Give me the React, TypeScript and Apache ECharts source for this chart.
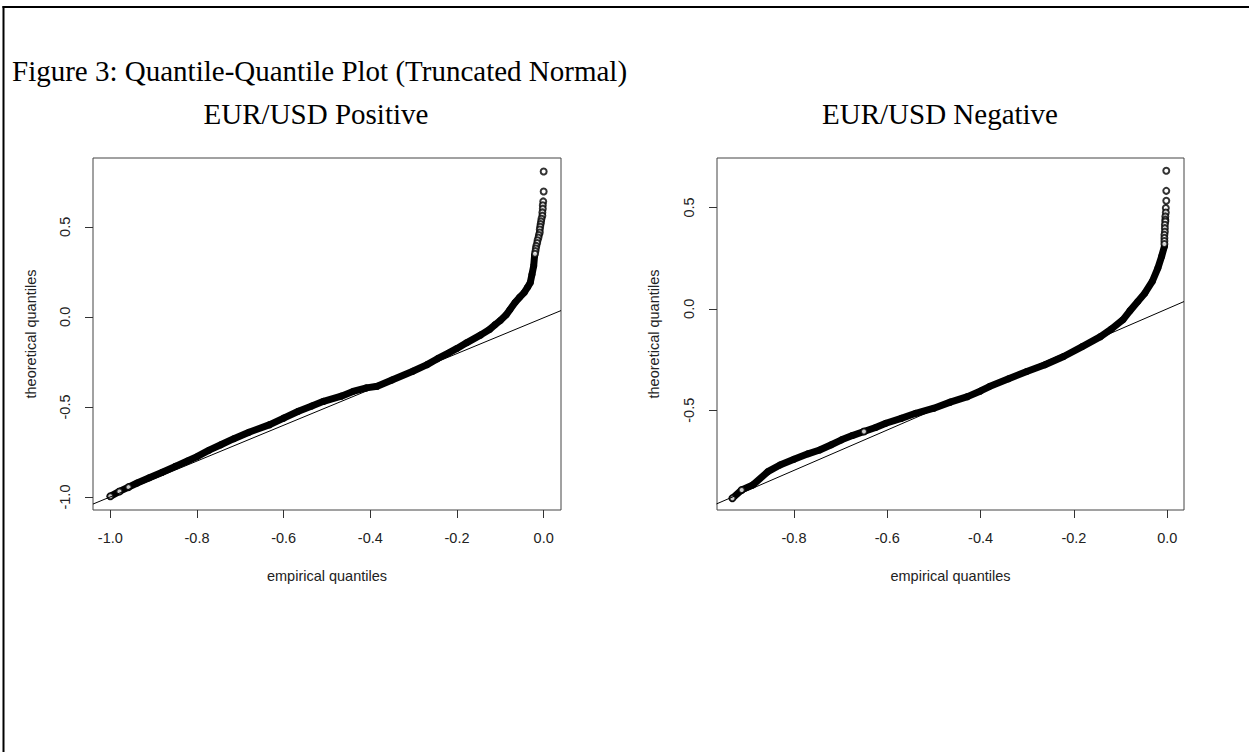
import React, { useEffect, useRef } from "react";
import * as echarts from "echarts";

// ---- data ----
const leftBand: [number, number][] = [
  [-1.0, -0.996], [-0.979, -0.969], [-0.958, -0.945], [-0.938, -0.922], [-0.91, -0.893],
  [-0.88, -0.862], [-0.85, -0.83], [-0.822, -0.8], [-0.8, -0.776], [-0.772, -0.74],
  [-0.745, -0.71], [-0.715, -0.676], [-0.68, -0.64], [-0.632, -0.598], [-0.6, -0.562],
  [-0.566, -0.524], [-0.535, -0.495], [-0.508, -0.469], [-0.467, -0.44], [-0.44, -0.414],
  [-0.409, -0.394], [-0.384, -0.385], [-0.35, -0.35], [-0.302, -0.302], [-0.269, -0.265],
  [-0.245, -0.232], [-0.219, -0.2], [-0.2, -0.175], [-0.178, -0.144], [-0.145, -0.1],
  [-0.125, -0.07], [-0.112, -0.043], [-0.1, -0.02], [-0.087, 0.01], [-0.078, 0.04],
  [-0.066, 0.08], [-0.055, 0.11], [-0.045, 0.135], [-0.037, 0.165], [-0.031, 0.19],
  [-0.027, 0.235], [-0.023, 0.283], [-0.021, 0.339],
];
const leftTail: [number, number][] = [
  [0.0, 0.807], [0.0, 0.696], [-0.001, 0.641], [-0.002, 0.62], [-0.002, 0.6],
  [-0.003, 0.58], [-0.003, 0.561], [-0.005, 0.545], [-0.006, 0.53], [-0.007, 0.515],
  [-0.008, 0.5], [-0.009, 0.485], [-0.009, 0.468], [-0.011, 0.455], [-0.012, 0.44],
  [-0.014, 0.425], [-0.015, 0.41], [-0.017, 0.394], [-0.018, 0.38], [-0.019, 0.365],
  [-0.02, 0.35], [-1.0, -0.996], [-0.979, -0.969], [-0.958, -0.945],
];
const leftRefLine: [number, number][] = [[-1.04, -1.039], [0.04, 0.035]];

const rightBand: [number, number][] = [
  [-0.932, -0.934], [-0.912, -0.893], [-0.888, -0.868], [-0.856, -0.803], [-0.83, -0.77],
  [-0.8, -0.742], [-0.77, -0.715], [-0.745, -0.696], [-0.72, -0.67], [-0.698, -0.646],
  [-0.675, -0.625], [-0.65, -0.605], [-0.625, -0.585], [-0.603, -0.564], [-0.57, -0.54],
  [-0.539, -0.515], [-0.5, -0.49], [-0.465, -0.46], [-0.428, -0.433], [-0.4, -0.405],
  [-0.381, -0.383], [-0.34, -0.345], [-0.301, -0.309], [-0.262, -0.276], [-0.222, -0.235],
  [-0.182, -0.186], [-0.143, -0.137], [-0.12, -0.1], [-0.095, -0.054], [-0.08, -0.01],
  [-0.063, 0.036], [-0.048, 0.077], [-0.032, 0.135], [-0.02, 0.201], [-0.012, 0.258],
  [-0.006, 0.308],
];
const rightTail: [number, number][] = [
  [-0.002, 0.681], [-0.002, 0.582], [-0.002, 0.533], [-0.003, 0.497], [-0.003, 0.475],
  [-0.004, 0.456], [-0.004, 0.44], [-0.004, 0.431], [-0.005, 0.415], [-0.005, 0.398],
  [-0.005, 0.38], [-0.006, 0.365], [-0.006, 0.35], [-0.006, 0.335], [-0.006, 0.32],
  [-0.932, -0.934], [-0.912, -0.893], [-0.65, -0.605],
];
const rightRefLine: [number, number][] = [[-0.966, -0.962], [0.036, 0.036]];

const xTicksLeft = [-1.0, -0.8, -0.6, -0.4, -0.2, 0.0];
const yTicksLeft = [-1.0, -0.5, 0.0, 0.5];
const xTicksRight = [-0.8, -0.6, -0.4, -0.2, 0.0];
const yTicksRight = [-0.5, 0.0, 0.5];

const mainTitle = "Figure 3: Quantile-Quantile Plot (Truncated Normal)";
const leftTitle = "EUR/USD Positive";
const rightTitle = "EUR/USD Negative";
const xName = "empirical quantiles";
const yName = "theoretical quantiles";

const SANS = '"Liberation Sans", Arial, sans-serif';
const SERIF = '"Liberation Serif", "Times New Roman", serif';
const FS = 14.5;

function xAxis(gridIndex: number, min: number, max: number, ticks: number[]) {
  return {
    type: "value",
    gridIndex,
    min,
    max,
    name: xName,
    nameLocation: "middle",
    nameGap: 58,
    nameTextStyle: { fontFamily: SANS, fontSize: FS, color: "#222" },
    axisLine: { show: false, onZero: false },
    axisTick: { show: true, length: 8, lineStyle: { color: "#333" }, customValues: ticks },
    axisLabel: {
      show: true,
      margin: 20,
      fontFamily: SANS,
      fontSize: FS,
      color: "#222",
      customValues: ticks,
      formatter: (v: number) => v.toFixed(1),
    },
    splitLine: { show: false },
  };
}

function yAxis(gridIndex: number, min: number, max: number, ticks: number[], gap: number) {
  return {
    type: "value",
    gridIndex,
    min,
    max,
    name: yName,
    nameLocation: "middle",
    nameGap: gap,
    nameTextStyle: { fontFamily: SANS, fontSize: FS, color: "#222" },
    axisLine: { show: false, onZero: false },
    axisTick: { show: true, length: 8, lineStyle: { color: "#333" }, customValues: ticks },
    axisLabel: {
      show: true,
      rotate: 90,
      margin: 21,
      fontFamily: SANS,
      fontSize: FS,
      color: "#222",
      customValues: ticks,
      formatter: (v: number) => v.toFixed(1),
    },
    splitLine: { show: false },
  };
}

function plotSeries(idx: number, band: [number, number][], tail: [number, number][], ref: [number, number][]) {
  return [
    {
      type: "line",
      xAxisIndex: idx,
      yAxisIndex: idx,
      data: band,
      symbol: "circle",
      symbolSize: 7,
      showSymbol: true,
      showAllSymbol: true,
      lineStyle: { color: "#000", width: 7, cap: "round", join: "round" },
      itemStyle: { color: "#000" },
      z: 2,
    },
    {
      type: "scatter",
      xAxisIndex: idx,
      yAxisIndex: idx,
      data: tail,
      symbol: "emptyCircle",
      symbolSize: 6,
      itemStyle: { color: "#000", borderColor: "#000", borderWidth: 1 },
      z: 3,
    },
    {
      type: "line",
      xAxisIndex: idx,
      yAxisIndex: idx,
      data: ref,
      symbol: "none",
      clip: true,
      lineStyle: { color: "#000", width: 1 },
      z: 4,
    },
  ];
}

export default function App() {
  const ref = useRef<HTMLDivElement>(null);
  useEffect(() => {
    if (!ref.current) return;
    const chart = echarts.init(ref.current, undefined, { renderer: "svg" });
    chart.setOption({
      animation: false,
      backgroundColor: "#fff",
      grid: [
        { left: 93, top: 158, width: 468, height: 352, show: true, borderColor: "#444", borderWidth: 1, backgroundColor: "transparent" },
        { left: 717, top: 158, width: 467, height: 352, show: true, borderColor: "#444", borderWidth: 1, backgroundColor: "transparent" },
      ],
      xAxis: [xAxis(0, -1.04, 0.04, xTicksLeft), xAxis(1, -0.965, 0.036, xTicksRight)],
      yAxis: [yAxis(0, -1.072, 0.882, yTicksLeft, 55), yAxis(1, -0.992, 0.744, yTicksRight, 56)],
      series: [
        ...plotSeries(0, leftBand, leftTail, leftRefLine),
        ...plotSeries(1, rightBand, rightTail, rightRefLine),
      ],
      graphic: [
        { type: "line", shape: { x1: 3.5, y1: 6, x2: 3.5, y2: 752 }, style: { stroke: "#000", lineWidth: 2 } },
        { type: "line", shape: { x1: 2.5, y1: 7, x2: 1249, y2: 7 }, style: { stroke: "#000", lineWidth: 2 } },
        { type: "text", x: 12, y: 56, style: { text: mainTitle, font: `29px ${SERIF}`, fill: "#000", verticalAlign: "top" } },
        { type: "text", x: 316, y: 99, style: { text: leftTitle, font: `29px ${SERIF}`, fill: "#000", align: "center", verticalAlign: "top" } },
        { type: "text", x: 940, y: 99, style: { text: rightTitle, font: `29px ${SERIF}`, fill: "#000", align: "center", verticalAlign: "top" } },
      ],
    });
    return () => chart.dispose();
  }, []);
  return (
    <div
      ref={ref}
      style={{ position: "fixed", left: 0, top: 0, width: 1249, height: 752, background: "#fff" }}
    />
  );
}
